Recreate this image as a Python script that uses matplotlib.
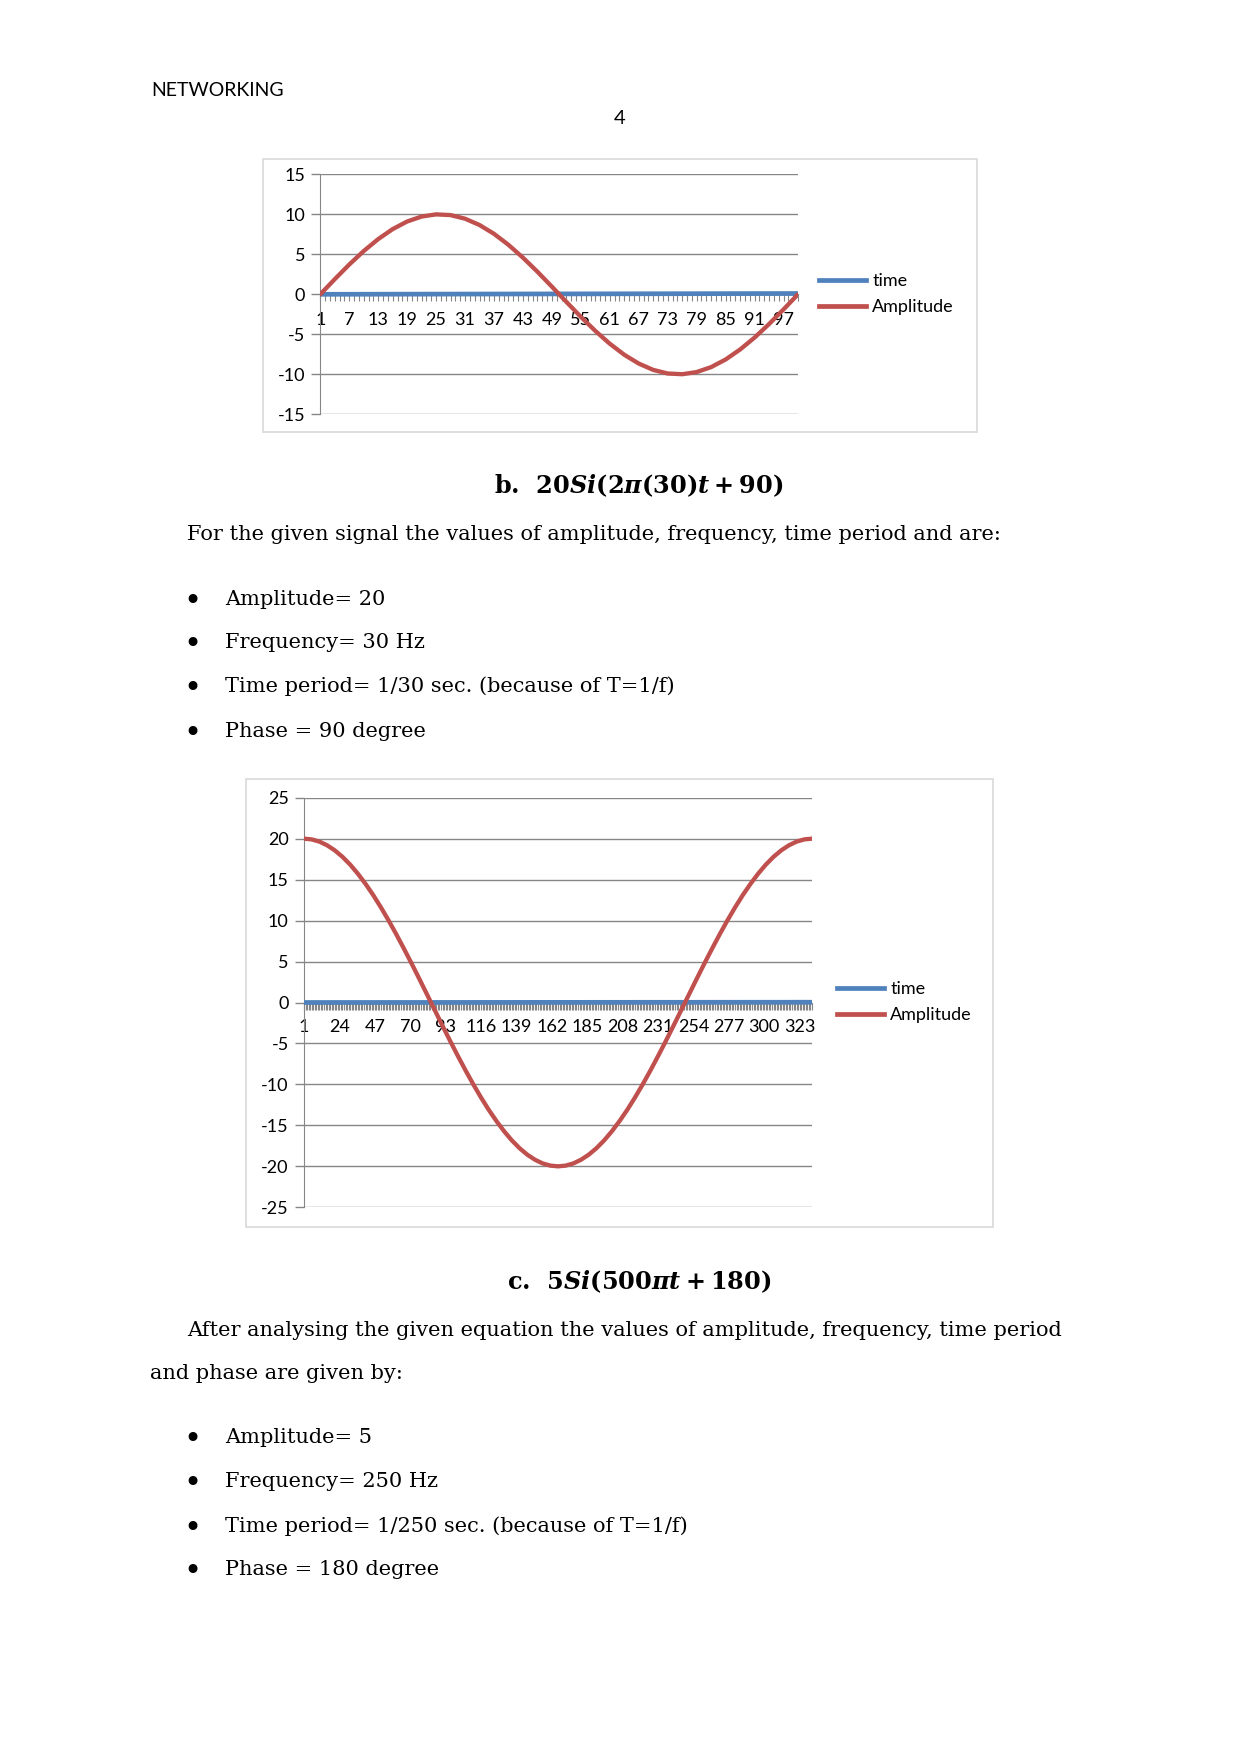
import matplotlib
matplotlib.use('Agg')
import matplotlib.pyplot as plt
from matplotlib.patches import Rectangle
from matplotlib.lines import Line2D

W, H = 1241, 1754
plt.rcParams['font.family'] = ['Lato', 'DejaVu Sans']
plt.rcParams['axes.unicode_minus'] = False
plt.rcParams['mathtext.fontset'] = 'custom'
plt.rcParams['mathtext.rm'] = 'DejaVu Serif:bold'
plt.rcParams['mathtext.it'] = 'DejaVu Serif:italic:bold'
plt.rcParams['mathtext.bf'] = 'DejaVu Serif:bold'

# ---------------- data: chart 1 ----------------
cat1 = [1, 4, 7, 10, 13, 16, 19, 22, 25, 28, 31, 34, 37, 40, 43, 46, 49, 52, 55,
        58, 61, 64, 67, 70, 73, 76, 79, 82, 85, 88, 91, 94, 97, 100]
time1 = [0.000, 0.003, 0.006, 0.009, 0.012, 0.015, 0.018, 0.021, 0.024, 0.027,
         0.030, 0.033, 0.036, 0.039, 0.042, 0.045, 0.048, 0.051, 0.054, 0.057,
         0.060, 0.063, 0.066, 0.069, 0.072, 0.075, 0.078, 0.081, 0.084, 0.087,
         0.090, 0.093, 0.096, 0.099]
amp1 = [0.0, 1.89, 3.72, 5.41, 6.90, 8.15, 9.10, 9.72, 9.99, 9.90, 9.45, 8.66,
        7.56, 6.18, 4.58, 2.82, 0.95, -0.95, -2.82, -4.58, -6.18, -7.56, -8.66,
        -9.45, -9.90, -9.99, -9.72, -9.10, -8.15, -6.90, -5.41, -3.72, -1.89, 0.0]
xlabels1 = [1, 7, 13, 19, 25, 31, 37, 43, 49, 55, 61, 67, 73, 79, 85, 91, 97]
ncat1 = 100
yticks1 = [-15, -10, -5, 0, 5, 10, 15]

# ---------------- data: chart 2 ----------------
cat2 = [1, 6, 11, 16, 21, 26, 31, 36, 41, 46, 51, 56, 61, 66, 71, 76, 81, 86, 91,
        96, 101, 106, 111, 116, 121, 126, 131, 136, 141, 146, 151, 156, 161, 166,
        171, 176, 181, 186, 191, 196, 201, 206, 211, 216, 221, 226, 231, 236, 241,
        246, 251, 256, 261, 266, 271, 276, 281, 286, 291, 296, 301, 306, 311, 316,
        321, 326, 331]
time2 = [0.0000, 0.0005, 0.0010, 0.0015, 0.0020, 0.0025, 0.0030, 0.0035, 0.0040, 0.0045,
         0.0050, 0.0055, 0.0060, 0.0065, 0.0070, 0.0075, 0.0080, 0.0085, 0.0090, 0.0095,
         0.0100, 0.0105, 0.0110, 0.0115, 0.0120, 0.0125, 0.0130, 0.0135, 0.0140, 0.0145,
         0.0150, 0.0155, 0.0160, 0.0165, 0.0170, 0.0175, 0.0180, 0.0185, 0.0190, 0.0195,
         0.0200, 0.0205, 0.0210, 0.0215, 0.0220, 0.0225, 0.0230, 0.0235, 0.0240, 0.0245,
         0.0250, 0.0255, 0.0260, 0.0265, 0.0270, 0.0275, 0.0280, 0.0285, 0.0290, 0.0295,
         0.0300, 0.0305, 0.0310, 0.0315, 0.0320, 0.0325, 0.0330]
amp2 = [20.00, 19.91, 19.64, 19.19, 18.57, 17.78, 16.83, 15.72, 14.47, 13.10, 11.60,
        10.00, 8.31, 6.54, 4.72, 2.85, 0.95, -0.95, -2.85, -4.72, -6.54, -8.31,
        -10.00, -11.60, -13.10, -14.47, -15.72, -16.83, -17.78, -18.57, -19.19,
        -19.64, -19.91, -20.00, -19.91, -19.64, -19.19, -18.57, -17.78, -16.83,
        -15.72, -14.47, -13.10, -11.60, -10.00, -8.31, -6.54, -4.72, -2.85, -0.95,
        0.95, 2.85, 4.72, 6.54, 8.31, 10.00, 11.60, 13.10, 14.47, 15.72, 16.83,
        17.78, 18.57, 19.19, 19.64, 19.91, 20.00]
xlabels2 = [1, 24, 47, 70, 93, 116, 139, 162, 185, 208, 231, 254, 277, 300, 323]
ncat2 = 331
yticks2 = [-25, -20, -15, -10, -5, 0, 5, 10, 15, 20, 25]

series_names = ['time', 'Amplitude']

BLUE = '#4F81BD'
RED = '#C0504D'
GRID = '#868686'
SERIF = ['DejaVu Serif']
CH_FS = 13

fig = plt.figure(figsize=(W / 100, H / 100), dpi=100)


def fx(x):
    return x / W


def fy(y):
    return 1 - y / H


def px_axes(l, t, r, b):
    return fig.add_axes([l / W, 1 - b / H, (r - l) / W, (b - t) / H])


def box(l, t, r, b):
    fig.patches.append(Rectangle((fx(l), fy(b)), (r - l) / W, (b - t) / H,
                                 transform=fig.transFigure, fill=False,
                                 edgecolor='#D9D9D9', lw=1.2))


def chart(ax, cats, times, amps, ncat, xlabels, yticks, legx, legy, xpad):
    ax.plot(cats, times, color=BLUE, lw=3.4, zorder=3, solid_capstyle='butt')
    ax.plot(cats, amps, color=RED, lw=3.1, zorder=4, solid_capstyle='round')
    ax.set_xlim(1, ncat)
    ax.set_ylim(yticks[0], yticks[-1])
    ax.set_yticks(yticks)
    ax.set_yticklabels([str(v) for v in yticks])
    ax.set_xticks(xlabels)
    ax.set_xticklabels([str(v) for v in xlabels])
    ax.set_xticks(list(range(1, ncat + 1)), minor=True)
    for s in ('top', 'right'):
        ax.spines[s].set_visible(False)
    ax.spines['left'].set_color(GRID)
    ax.spines['bottom'].set_position(('data', 0))
    ax.spines['bottom'].set_color(GRID)
    ax.yaxis.grid(True, color=GRID, lw=1.0)
    ax.set_axisbelow(True)
    ax.tick_params(axis='y', direction='out', length=6.5, width=1, color=GRID,
                   labelsize=CH_FS, pad=4.5, labelcolor='black')
    ax.tick_params(axis='x', which='both', direction='out', length=5, width=0.8,
                   color=GRID, labelsize=CH_FS, pad=xpad, labelcolor='black')
    ax.patch.set_alpha(0)
    handles = [Line2D([], [], color=BLUE, lw=3.4), Line2D([], [], color=RED, lw=3.4)]
    fig.legend(handles, series_names, loc='center left',
               bbox_to_anchor=(fx(legx), fy(legy)), frameon=False,
               handlelength=2.6, handletextpad=0.35, labelspacing=0.55,
               fontsize=CH_FS, borderaxespad=0, borderpad=0)


# chart 1
box(263, 159, 977, 432)
ax1 = px_axes(320.3, 174.3, 798, 414.3)
chart(ax1, cat1, time1, amp1, ncat1, xlabels1, yticks1, 819, 294, 7.5)

# chart 2
box(246, 779, 993, 1227)
ax2 = px_axes(304, 797.7, 812, 1207.3)
chart(ax2, cat2, time2, amp2, ncat2, xlabels2, yticks2, 837, 1002, 7.0)

# ---------------- page text ----------------
fig.text(fx(151), fy(95.5), 'NETWORKING', fontsize=14, va='baseline', ha='left',
         family=['Lato', 'DejaVu Sans'])
fig.text(fx(620), fy(124.5), '4', fontsize=14.5, va='baseline', ha='center',
         family=['Lato', 'DejaVu Sans'])

BODY = 15
TITLE = 17.3


def body(x, y, s, size=BODY, **kw):
    fig.text(fx(x), fy(y), s, fontsize=size, va='baseline', ha='left',
             family=SERIF, **kw)


def bullet(y):
    fig.text(fx(192.3), fy(y - 2.5), '\u2022', fontsize=22, va='center',
             ha='center', family=SERIF)


body(494, 493.5, r'b.  $20Si(2\pi(30)t+90)$', size=TITLE, fontweight='bold')
body(187, 540, 'For the given signal the values of amplitude, frequency, time period and are:')
bul_b = ['Amplitude= 20', 'Frequency= 30 Hz', 'Time period= 1/30 sec. (because of T=1/f)',
         'Phase = 90 degree']
for yy, s in zip([605, 648.3, 692.3, 736.7], bul_b):
    bullet(yy)
    body(225, yy, s)

body(506.7, 1289.3, r'c.  $5Si(500\pi t+180)$', size=TITLE, fontweight='bold')
body(187, 1335.7, 'After analysing the given equation the values of amplitude, frequency, time period')
body(150, 1379, 'and phase are given by:')
bul_c = ['Amplitude= 5', 'Frequency= 250 Hz', 'Time period= 1/250 sec. (because of T=1/f)',
         'Phase = 180 degree']
for yy, s in zip([1443.3, 1487.3, 1531.7, 1575], bul_c):
    bullet(yy)
    body(225, yy, s)

fig.savefig('out.png', dpi=100)
